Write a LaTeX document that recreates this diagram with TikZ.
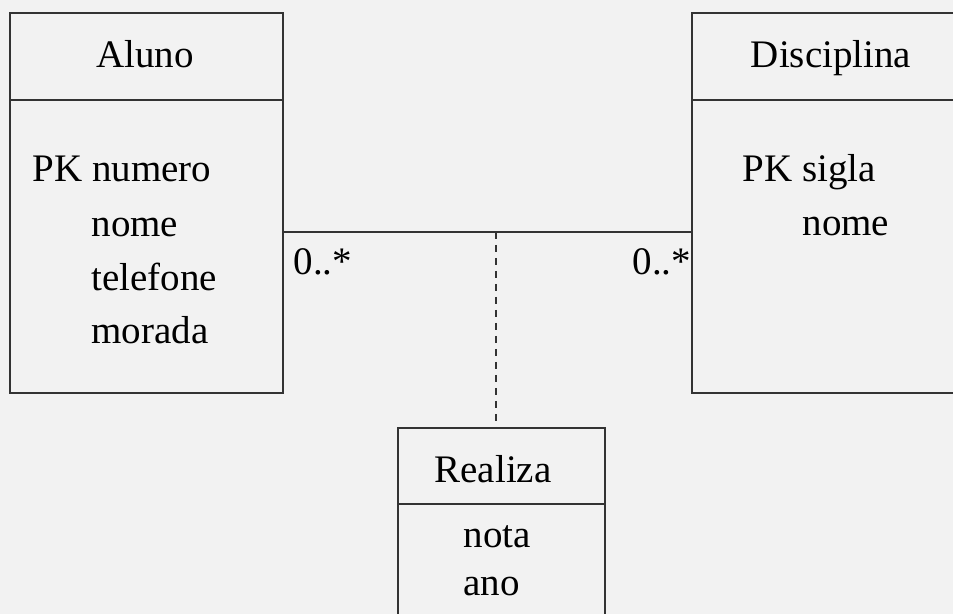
\documentclass[tikz,border=0pt]{standalone}
\usepackage{fontspec}
\setmainfont{Liberation Serif}
\usepackage{tikz}
\usetikzlibrary{positioning}

\begin{document}
\begin{tikzpicture}[x=0.5pt, y=-0.5pt, line width=0.6pt,
      classbox/.style = {
        rectangle, draw=black!80, inner sep=0pt, outer sep=0pt, anchor=north west },
      txt/.style = {
        inner sep=0pt, font=\fontsize{19.5}{23}\selectfont },
      attr/.style = { txt, anchor=base west },
      title/.style = { txt, anchor=base },
      divider/.style = { draw=black!80 },
      link/.style = { draw=black!80 },
      link-dashed/.style = { draw=black!80, dash pattern=on 3.5pt off 3pt }]
    \fill[black!5] (0,0) rectangle (953,614);
    \clip (0,0) rectangle (953,614);
    \useasboundingbox (0,0) rectangle (953,614);
    % class boxes
    \node [classbox, minimum width=136.5pt, minimum height=190pt] (aluno) at (10,13) {};
    \node [classbox, minimum width=140pt, minimum height=190pt] (disc) at (692,13) {};
    \node [classbox, minimum width=103.5pt, minimum height=110pt] (realiza) at (398,428) {};
    \coordinate (alunosep) at (10,100);
    \coordinate (discsep) at (692,100);
    \coordinate (realizasep) at (398,504);
    \draw[divider] (alunosep) -- (alunosep -| aluno.east);
    \draw[divider] (discsep) -- (discsep -| disc.east);
    \draw[divider] (realizasep) -- (realizasep -| realiza.east);
    % titles and attributes
    \node [title] (alunoname) at (145,68) {Aluno};
    \node [title] (discname) at (831,68) {Disciplina};
    \node [title] (realizaname) at (493,482) {Realiza};
    \node [attr] (numero) at (32,182) {PK numero};
    \node [attr] (anome) at (91,237) {nome};
    \node [attr] (telefone) at (91,291) {telefone};
    \node [attr] (morada) at (91,344) {morada};
    \node [attr] (sigla) at (742,182) {PK sigla};
    \node [attr] (dnome) at (802,236) {nome};
    \node [attr] (nota) at (463,547) {nota};
    \node [attr] (ano) at (463,595) {ano};
    % association
    \coordinate (assoc) at (496,232);
    \draw[link] (assoc -| aluno.east) -- (assoc -| disc.west);
    \draw[link-dashed] (assoc) -- (assoc |- realiza.north);
    \node [attr] (multa) at (293,275) {0..*};
    \node [attr] (multd) at (632,275) {0..*};
  \end{tikzpicture}
\end{document}
